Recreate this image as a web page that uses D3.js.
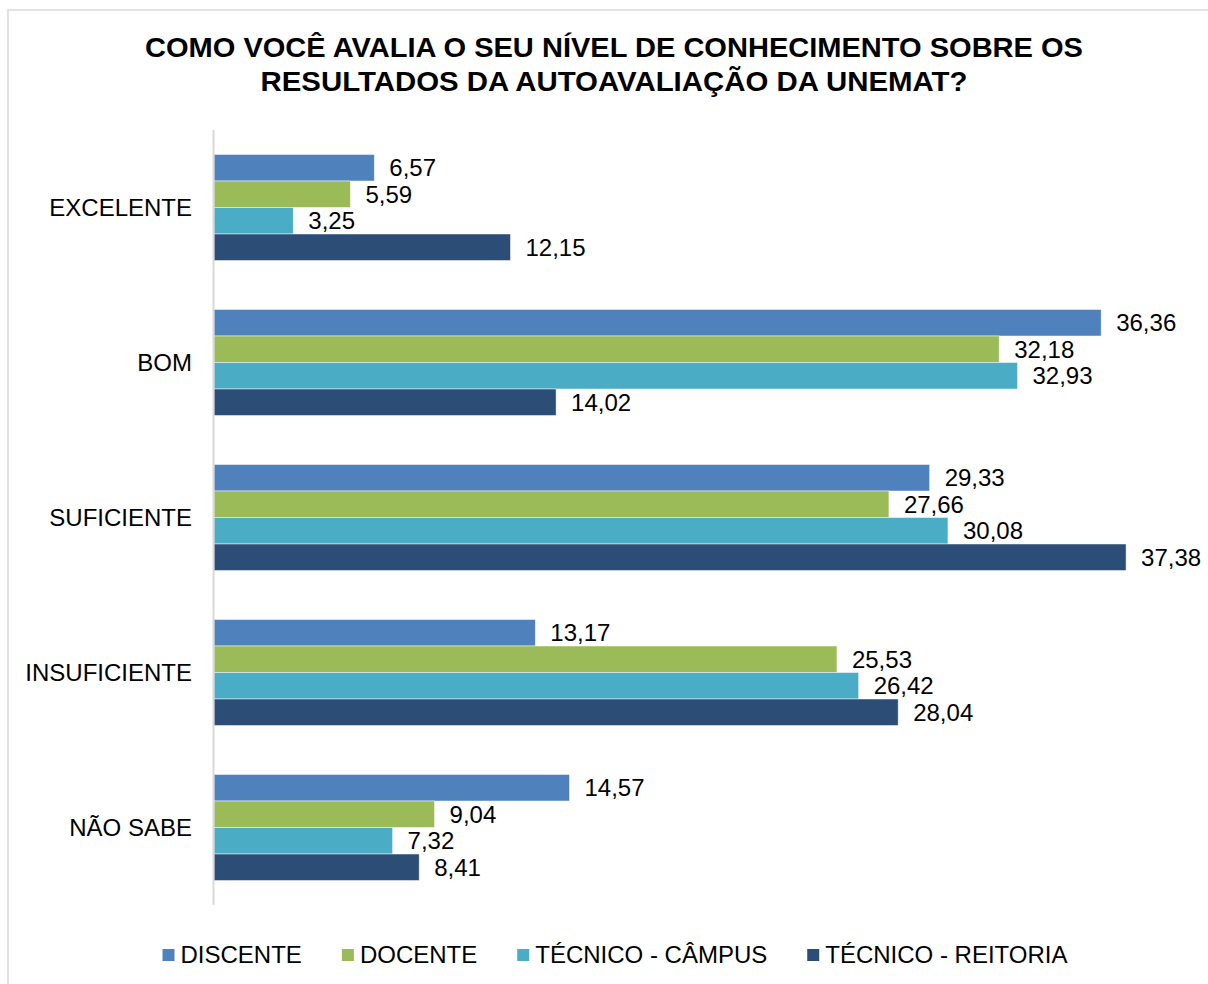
<!DOCTYPE html>
<html>
<head>
<meta charset="utf-8">
<script src="https://cdn.jsdelivr.net/npm/d3@7"></script>
<style>
  body { margin: 0; background: #fff; }
  svg text { font-family: "Liberation Sans", Arial, sans-serif; fill: #000; }
</style>
</head>
<body>
<svg id="chart"></svg>
<script>
// data
const categories = ["EXCELENTE", "BOM", "SUFICIENTE", "INSUFICIENTE", "NÃO SABE"];
const seriesNames = ["DISCENTE", "DOCENTE", "TÉCNICO - CÂMPUS", "TÉCNICO - REITORIA"];
const discente = [6.57, 36.36, 29.33, 13.17, 14.57];
const docente = [5.59, 32.18, 27.66, 25.53, 9.04];
const tecnicoCampus = [3.25, 32.93, 30.08, 26.42, 7.32];
const tecnicoReitoria = [12.15, 14.02, 37.38, 28.04, 8.41];
const titleLines = ["COMO VOCÊ AVALIA O SEU NÍVEL DE CONHECIMENTO SOBRE OS",
                    "RESULTADOS DA AUTOAVALIAÇÃO DA UNEMAT?"];

const colors = ["#4F81BD", "#9BBB59", "#4BACC6", "#2C4D75"];
const seriesValues = [discente, docente, tecnicoCampus, tecnicoReitoria];

const W = 1208, H = 984;
const svg = d3.select("#chart").attr("width", W).attr("height", H);

// outer frame
svg.append("rect")
    .attr("x", 8).attr("y", 10)
    .attr("width", W).attr("height", H)
    .attr("fill", "none").attr("stroke", "#D9D9D9").attr("stroke-width", 1.5);

// title
svg.append("g").selectAll("text")
    .data(titleLines)
  .join("text")
    .attr("x", 614)
    .attr("y", (d, i) => 57 + i * 34)
    .attr("text-anchor", "middle")
    .attr("font-size", 28)
    .attr("font-weight", "bold")
    .attr("textLength", (d, i) => i === 0 ? 938 : 707)
    .attr("lengthAdjust", "spacingAndGlyphs")
    .text(d => d);

// scales
const x = d3.scaleLinear().domain([0, 40]).range([214, 1190]);
const y = d3.scaleBand()
    .domain(categories)
    .range([130, 905])
    .paddingInner(0.316)
    .paddingOuter(0.158);
const ySub = d3.scaleBand()
    .domain(d3.range(seriesNames.length))
    .range([0, y.bandwidth()]);

// rows: one group per category
const rows = svg.append("g").selectAll("g")
    .data(categories)
  .join("g")
    .attr("transform", d => `translate(0,${y(d)})`);

const cells = rows.selectAll("g")
    .data((c, ci) => seriesValues.map((vals, si) => ({ si, v: vals[ci] })))
  .join("g");

cells.append("rect")
    .attr("x", x(0))
    .attr("y", d => ySub(d.si))
    .attr("width", d => x(d.v) - x(0))
    .attr("height", ySub.bandwidth())
    .attr("fill", d => colors[d.si])
    .attr("stroke", "#ffffff")
    .attr("stroke-opacity", 0.6)
    .attr("stroke-width", 0.8);

cells.append("text")
    .attr("x", d => x(d.v) + 15)
    .attr("y", d => ySub(d.si) + ySub.bandwidth() / 2)
    .attr("dy", "0.35em")
    .attr("font-size", 24)
    .text(d => d3.format(".2f")(d.v).replace(".", ","));

// category labels
svg.append("g").selectAll("text")
    .data(categories)
  .join("text")
    .attr("x", 192)
    .attr("y", d => y(d) + y.bandwidth() / 2)
    .attr("dy", "0.35em")
    .attr("text-anchor", "end")
    .attr("font-size", 24)
    .text(d => d);

// vertical axis line
svg.append("line")
    .attr("x1", 213.5).attr("x2", 213.5)
    .attr("y1", 130).attr("y2", 905)
    .attr("stroke", "#D9D9D9").attr("stroke-width", 2);

// legend
const legend = svg.append("g");
const items = legend.selectAll("g")
    .data(seriesNames)
  .join("g");
items.append("rect")
    .attr("y", 949).attr("width", 12).attr("height", 12)
    .attr("fill", (d, i) => colors[i]);
items.append("text")
    .attr("x", 18).attr("y", 963)
    .attr("font-size", 24)
    .text(d => d);

let cursor = 0;
const offsets = [];
items.each(function() {
    const w = 18 + d3.select(this).select("text").node().getComputedTextLength();
    offsets.push(cursor);
    cursor += w + 40;
});
const total = cursor - 40;
const start = 615 - total / 2;
items.attr("transform", (d, i) => `translate(${start + offsets[i]},0)`);
</script>
</body>
</html>
